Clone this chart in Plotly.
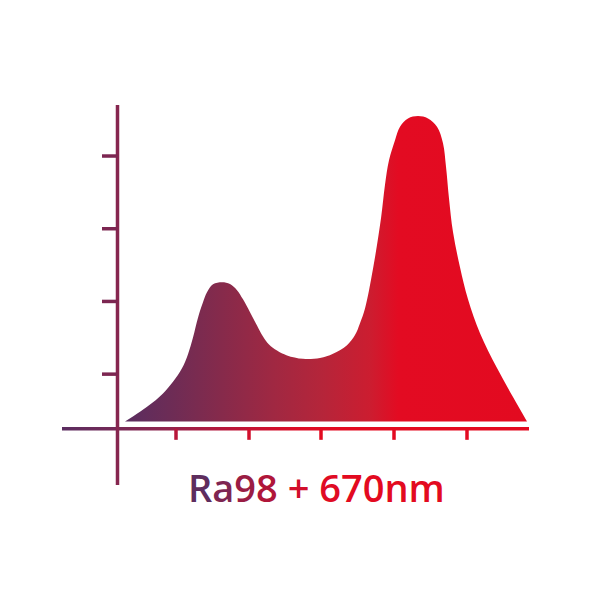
import plotly.graph_objects as go

# spectrum outline (wavelength nm, relative intensity)
wavelength = [380, 395, 408, 418, 428, 437, 443, 448, 453, 458, 462, 468, 477, 485,
              492, 498, 505, 512, 518, 524, 532, 542, 558, 575, 588, 602, 610, 615,
              620, 628, 636, 640, 644, 650, 655, 663, 673, 683, 692, 698, 701, 704,
              708, 715, 723, 735, 752, 768, 782]
intensity = [0.0, 0.032, 0.063, 0.092, 0.130, 0.174, 0.220, 0.275, 0.340, 0.390, 0.423,
             0.449, 0.456, 0.450, 0.430, 0.400, 0.358, 0.314, 0.278, 0.252, 0.232, 0.216,
             0.205, 0.208, 0.222, 0.250, 0.283, 0.322, 0.370, 0.500, 0.665, 0.775, 0.855,
             0.921, 0.965, 0.992, 1.0, 0.992, 0.965, 0.911, 0.834, 0.730, 0.620, 0.505,
             0.400, 0.289, 0.175, 0.080, 0.0]

# decorative tick positions
x_ticks = [431, 504, 576, 649, 722]
y_ticks = [0.155, 0.393, 0.631, 0.869]

purple = "#5a2d60"
red = "#e30a20"
axis_col = "#86264f"

spec_scale = [[0.0, "#5a2d60"], [0.12, "#6e2c55"], [0.24, "#862a4b"], [0.37, "#a02842"],
              [0.49, "#b5253a"], [0.61, "#cc1d30"], [0.68, "#e30b22"], [1.0, red]]

fig = go.Figure()

# spectrum area
fig.add_trace(go.Scatter(
    x=wavelength, y=intensity, mode="lines",
    line=dict(shape="spline", smoothing=1.0, width=0),
    fill="tozeroy",
    fillgradient=dict(type="horizontal", colorscale=spec_scale),
    hoverinfo="skip", showlegend=False))

# horizontal axis with gradient
ax_y0, ax_y1 = -0.0295, -0.0180
fig.add_trace(go.Scatter(
    x=[317, 784, 784, 317, 317], y=[ax_y0, ax_y0, ax_y1, ax_y1, ax_y0],
    mode="lines", line=dict(width=0), fill="toself",
    fillgradient=dict(type="horizontal",
                      colorscale=[[0, purple], [0.2, "#8a2650"], [0.35, "#b8163a"],
                                  [0.5, "#dc0c26"], [0.6, red], [1, red]]),
    hoverinfo="skip", showlegend=False))

tick_cols = ["#b8163a", "#d20f2c", red, red, red]
for xv, c in zip(x_ticks, tick_cols):
    fig.add_shape(type="line", x0=xv, x1=xv, y0=-0.024, y1=-0.06,
                  line=dict(color=c, width=3.5))

# vertical axis
fig.add_shape(type="line", x0=372.5, x1=372.5, y0=1.036, y1=-0.208,
              line=dict(color=axis_col, width=3.5))
for yv in y_ticks:
    fig.add_shape(type="line", x0=357, x1=372.5, y0=yv, y1=yv,
                  line=dict(color="#7c2651", width=3.5))

label = ('<span style="color:#5e2d5e">R</span><span style="color:#7e2651">a</span>'
         '<span style="color:#9a1d44">9</span><span style="color:#b0163a">8</span> '
         '<span style="color:#d20e2b">+</span> <span style="color:#e00b24">6</span>'
         '<span style="color:#e30a20">70nm</span>')
fig.add_annotation(x=571, y=-0.213, text=label, showarrow=False,
                   font=dict(family="Open Sans", size=38, weight=600),
                   xanchor="center", yanchor="middle")

# page body has an 8px margin, so the ranges are shifted by 8px to compensate
fig.update_layout(
    width=591, height=591,
    margin=dict(l=0, r=0, t=0, b=0),
    paper_bgcolor="white", plot_bgcolor="white",
    xaxis=dict(range=[263, 854], visible=False, fixedrange=True),
    yaxis=dict(range=[-0.581, 1.3535], visible=False, fixedrange=True),
)

fig.write_html("out.html")
